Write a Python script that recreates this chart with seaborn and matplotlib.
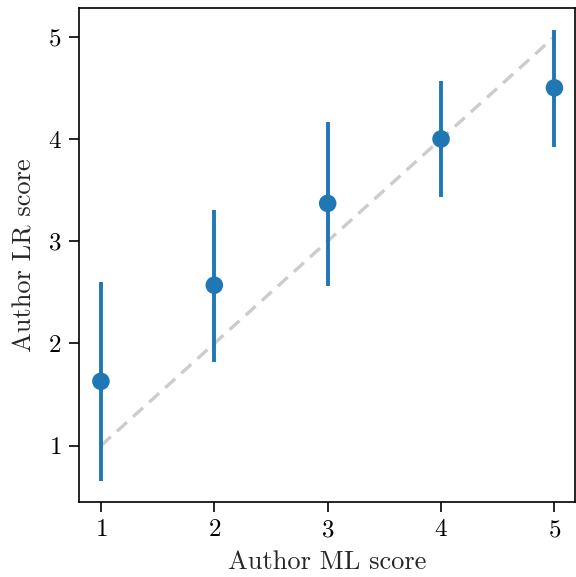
import numpy as np
import pandas as pd
import seaborn as sns
import matplotlib.pyplot as plt

# Data
ml_score = [1, 2, 3, 4, 5]
lr_mean = [1.63, 2.57, 3.37, 4.00, 4.50]
lr_low = [0.66, 1.82, 2.56, 3.43, 3.92]
lr_high = [2.60, 3.31, 4.17, 4.57, 5.07]

df = pd.DataFrame({"ml": ml_score, "lr": lr_mean, "lo": lr_low, "hi": lr_high})

sns.set_style("ticks")
plt.rcParams["font.family"] = "serif"
plt.rcParams["font.serif"] = ["cmr10"]
plt.rcParams["mathtext.fontset"] = "cm"
plt.rcParams["axes.formatter.use_mathtext"] = True
plt.rcParams["axes.edgecolor"] = "black"
plt.rcParams["xtick.color"] = "black"
plt.rcParams["ytick.color"] = "black"

fig = plt.figure(figsize=(5.76, 5.77), dpi=100)
ax = fig.add_axes([0.137, 0.130, 0.861, 0.856])

# Identity line
ax.plot([1, 5], [1, 5], ls="--", color="#cccccc", lw=2.4, dashes=(4, 2.5), zorder=1)

# Intervals and means
ax.vlines(df["ml"], df["lo"], df["hi"], color="#1f77b4", lw=2.8, zorder=2)
sns.scatterplot(data=df, x="ml", y="lr", color="#1f77b4", s=160, edgecolor="none", zorder=3, ax=ax)

ax.set_xlim(0.806, 5.18)
ax.set_ylim(0.45, 5.28)
ax.set_xticks([1, 2, 3, 4, 5])
ax.set_yticks([1, 2, 3, 4, 5])
ax.set_xlabel("Author ML score", fontsize=19, labelpad=6)
ax.set_ylabel("Author LR score", fontsize=19, labelpad=8)
ax.tick_params(labelsize=18, length=7, width=1.2, pad=5.5)
for s in ax.spines.values():
    s.set_linewidth(1.2)

fig.savefig("out.png", dpi=100)
